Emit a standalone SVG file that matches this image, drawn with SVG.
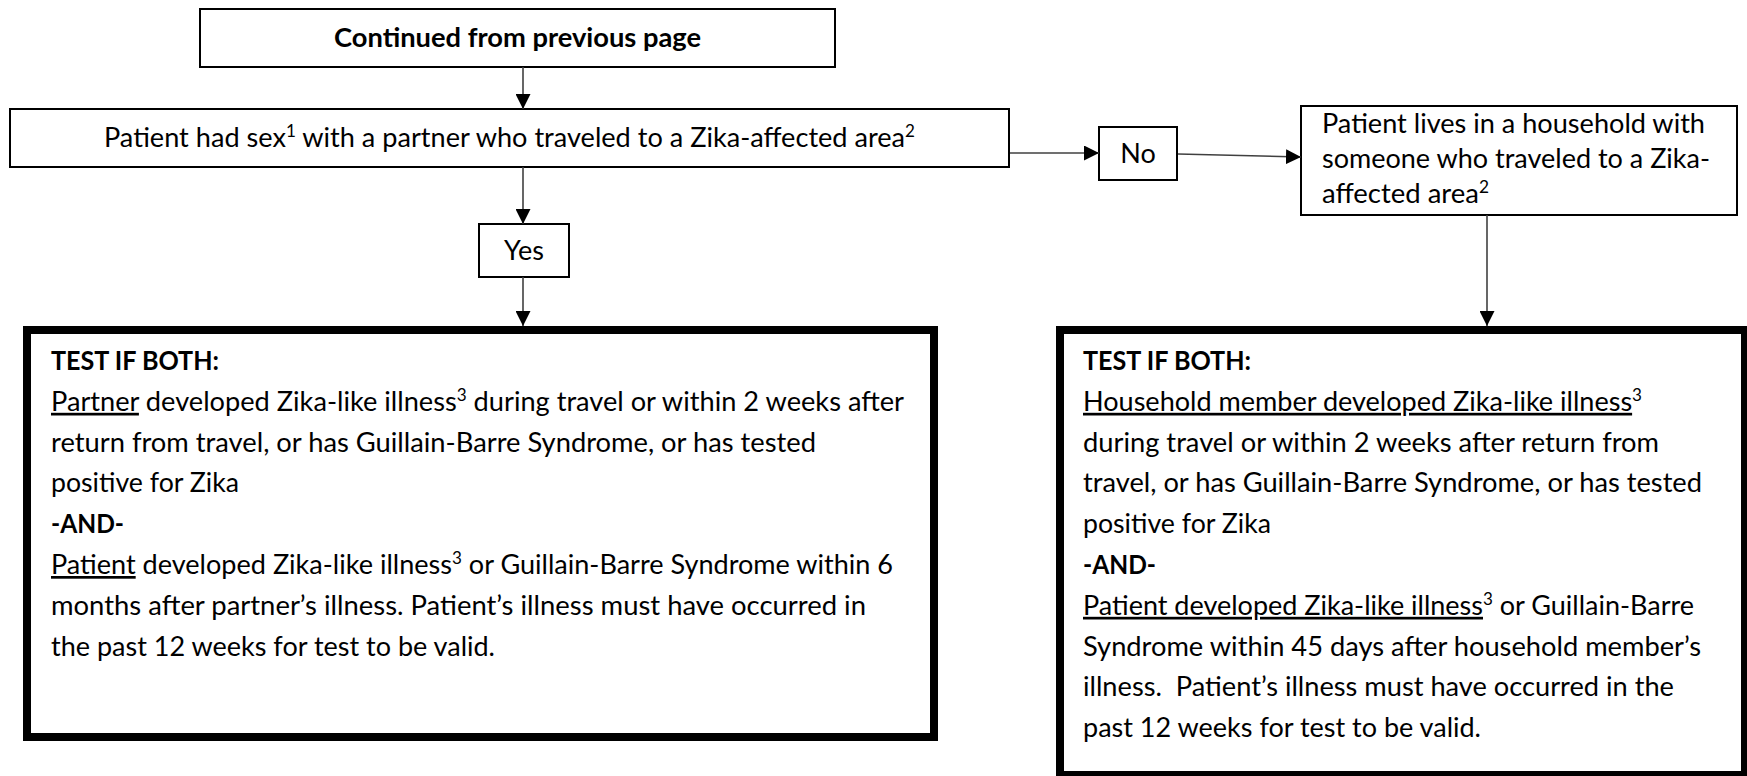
<svg xmlns="http://www.w3.org/2000/svg" width="1747" height="776" viewBox="0 0 1747 776">
<style>
.t{font-family:Lato,'Liberation Sans',sans-serif;font-size:27px;fill:#000}
.b{font-weight:bold}
.u{text-decoration:underline}
.box{fill:#fff;stroke:#000;stroke-width:2}
.big{fill:#fff;stroke:#000;stroke-width:8}
.conn{stroke:#404040;stroke-width:1.6;fill:none;marker-end:url(#ah)}
</style>
<defs>
<marker id="ah" markerUnits="userSpaceOnUse" markerWidth="15" markerHeight="15" viewBox="0 0 10 10" refX="10" refY="5" orient="auto">
<path d="M0,0 L10,5 L0,10 z" fill="#000"/>
</marker>
</defs>
<rect width="1747" height="776" fill="#fff"/>

<g id="n-continued">
<rect class="box" x="200" y="9" width="635" height="58"/>
<text class="t b" x="334" y="47" textLength="367" lengthAdjust="spacingAndGlyphs">Continued from previous page</text>
</g>

<g id="n-sex">
<rect class="box" x="10" y="109" width="999" height="58"/>
<text class="t" x="104" y="147" textLength="811" lengthAdjust="spacingAndGlyphs">Patient had sex<tspan font-size="17" dy="-10">1</tspan><tspan dy="10"> with a partner who traveled to a Zika-affected area</tspan><tspan font-size="17" dy="-10">2</tspan></text>
</g>

<g id="n-yes">
<rect class="box" x="479" y="224" width="90" height="53"/>
<text class="t" x="524" y="260" text-anchor="middle">Yes</text>
</g>

<g id="n-no">
<rect class="box" x="1099" y="127" width="78" height="53"/>
<text class="t" x="1138" y="163" text-anchor="middle">No</text>
</g>

<g id="n-household">
<rect class="box" x="1301" y="106" width="436" height="109"/>
<text class="t" x="1322" y="133" textLength="383" lengthAdjust="spacingAndGlyphs">Patient lives in a household with</text>
<text class="t" x="1322" y="168" textLength="388" lengthAdjust="spacingAndGlyphs">someone who traveled to a Zika-</text>
<text class="t" x="1322" y="203" textLength="167" lengthAdjust="spacingAndGlyphs">affected area<tspan font-size="17" dy="-10">2</tspan></text>
</g>

<g id="n-test-partner">
<rect class="big" x="27" y="330" width="907" height="407"/>
<text class="t b" x="51" y="370" textLength="168" lengthAdjust="spacingAndGlyphs">TEST IF BOTH:</text>
<text class="t" x="51" y="410.8" textLength="853" lengthAdjust="spacingAndGlyphs"><tspan class="u">Partner</tspan> developed Zika-like illness<tspan font-size="17" dy="-10">3</tspan><tspan dy="10"> during travel or within 2 weeks after</tspan></text>
<text class="t" x="51" y="451.6" textLength="765" lengthAdjust="spacingAndGlyphs">return from travel, or has Guillain-Barre Syndrome, or has tested</text>
<text class="t" x="51" y="492.4" textLength="188" lengthAdjust="spacingAndGlyphs">positive for Zika</text>
<text class="t b" x="51" y="533.2" textLength="73" lengthAdjust="spacingAndGlyphs">-AND-</text>
<text class="t" x="51" y="574" textLength="842" lengthAdjust="spacingAndGlyphs"><tspan class="u">Patient</tspan> developed Zika-like illness<tspan font-size="17" dy="-10">3</tspan><tspan dy="10"> or Guillain-Barre Syndrome within 6</tspan></text>
<text class="t" x="51" y="614.8" textLength="815" lengthAdjust="spacingAndGlyphs">months after partner’s illness. Patient’s illness must have occurred in</text>
<text class="t" x="51" y="655.6" textLength="444" lengthAdjust="spacingAndGlyphs">the past 12 weeks for test to be valid.</text>
</g>

<g id="n-test-household">
<rect class="big" x="1060" y="330" width="685" height="445"/>
<text class="t b" x="1083" y="370" textLength="168" lengthAdjust="spacingAndGlyphs">TEST IF BOTH:</text>
<text class="t" x="1083" y="410.8" textLength="559" lengthAdjust="spacingAndGlyphs"><tspan class="u">Household member developed Zika-like illness</tspan><tspan font-size="17" dy="-10">3</tspan></text>
<text class="t" x="1083" y="451.6" textLength="576" lengthAdjust="spacingAndGlyphs">during travel or within 2 weeks after return from</text>
<text class="t" x="1083" y="492.4" textLength="619" lengthAdjust="spacingAndGlyphs">travel, or has Guillain-Barre Syndrome, or has tested</text>
<text class="t" x="1083" y="533.2" textLength="188" lengthAdjust="spacingAndGlyphs">positive for Zika</text>
<text class="t b" x="1083" y="574" textLength="73" lengthAdjust="spacingAndGlyphs">-AND-</text>
<text class="t" x="1083" y="614.8" textLength="611" lengthAdjust="spacingAndGlyphs"><tspan class="u">Patient developed Zika-like illness</tspan><tspan font-size="17" dy="-10">3</tspan><tspan dy="10"> or Guillain-Barre</tspan></text>
<text class="t" x="1083" y="655.6" textLength="618" lengthAdjust="spacingAndGlyphs">Syndrome within 45 days after household member’s</text>
<text class="t" x="1083" y="696.4" textLength="591" lengthAdjust="spacingAndGlyphs">illness.&#160; Patient’s illness must have occurred in the</text>
<text class="t" x="1083" y="737.2" textLength="398" lengthAdjust="spacingAndGlyphs">past 12 weeks for test to be valid.</text>
</g>

<g id="connectors">
<line class="conn" x1="523" y1="67" x2="523" y2="109"/>
<line class="conn" x1="523" y1="167" x2="523" y2="224"/>
<line class="conn" x1="523" y1="277" x2="523" y2="326"/>
<line class="conn" x1="1010" y1="153" x2="1099" y2="153"/>
<line class="conn" x1="1178" y1="154" x2="1301" y2="157"/>
<line class="conn" x1="1487" y1="215" x2="1487" y2="326"/>
</g>
</svg>
